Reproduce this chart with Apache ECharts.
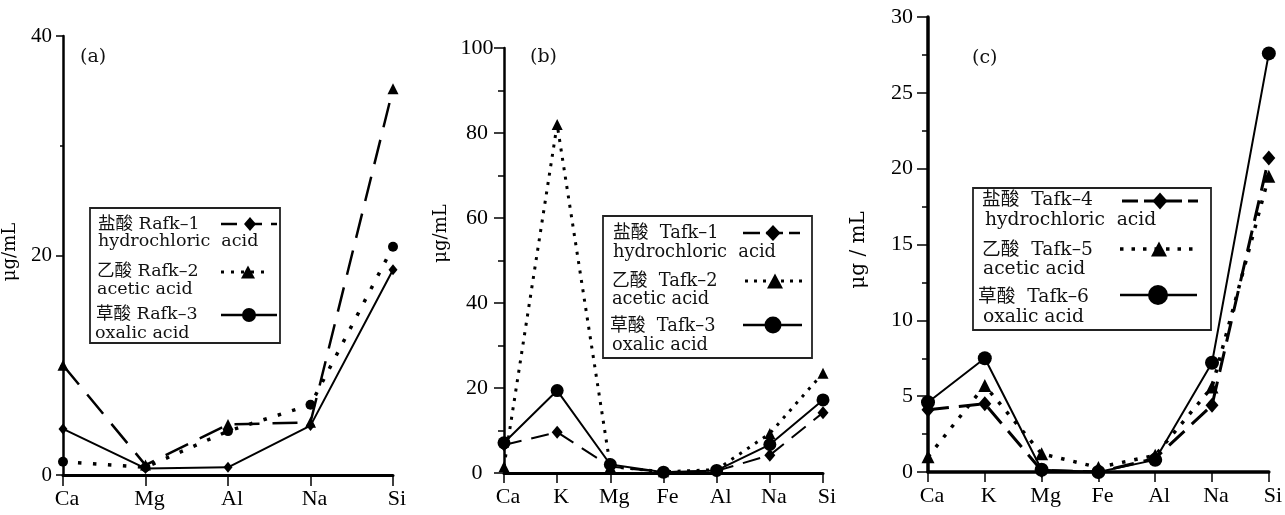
<!DOCTYPE html>
<html><head><meta charset="utf-8">
<script src="https://cdn.jsdelivr.net/npm/echarts@6/dist/echarts.min.js"></script>
<style>html,body{margin:0;padding:0;background:#fff}#c{width:1285px;height:515px}</style>
</head><body><div id="c"></div>
<script>
// ---------- data ----------
const catsA = ['Ca', 'Mg', 'Al', 'Na', 'Si'];
const rafk1 = [10.0, 0.9, 4.6, 4.8, 35.2];   // 盐酸 (dashed)
const rafk2 = [1.2, 0.7, 4.0, 6.4, 20.8];    // 乙酸 (dotted)
const rafk3 = [4.2, 0.6, 0.7, 4.5, 18.7];    // 草酸 (solid)

const catsB = ['Ca', 'K', 'Mg', 'Fe', 'Al', 'Na', 'Si'];
const tafk1 = [6.6, 9.6, 1.5, 0.2, 0.5, 4.2, 14.2];
const tafk2 = [1.5, 82.0, 1.5, 0.3, 0.8, 9.3, 23.5];
const tafk3 = [7.1, 19.4, 2.0, 0.2, 0.6, 6.7, 17.2];

const catsC = ['Ca', 'K', 'Mg', 'Fe', 'Al', 'Na', 'Si'];
const tafk4 = [4.1, 4.5, 0.1, 0.0, 0.9, 4.4, 20.7];
const tafk5 = [1.0, 5.7, 1.2, 0.3, 1.1, 5.6, 19.5];
const tafk6 = [4.6, 7.5, 0.15, 0.0, 0.8, 7.2, 27.6];

const yMaxA = 40, yStepA = 20;
const yMaxB = 100, yStepB = 20;
const yMaxC = 30, yStepC = 5;

const legendTextA = ['盐酸 Rafk–1', 'hydrochloric  acid', '乙酸 Rafk–2', 'acetic acid', '草酸 Rafk–3', 'oxalic acid'];
const legendTextB = ['盐酸  Tafk–1', 'hydrochloric  acid', '乙酸  Tafk–2', 'acetic acid', '草酸  Tafk–3', 'oxalic acid'];
const legendTextC = ['盐酸  Tafk–4', 'hydrochloric  acid', '乙酸  Tafk–5', 'acetic acid', '草酸  Tafk–6', 'oxalic acid'];
const panelTitles = ['(a)', '(b)', '(c)'];
const yNames = ['μg/mL', 'μg/mL', 'μg / mL'];

// ---------- styles ----------
const SERIF = '"Liberation Serif", "Times New Roman", serif';
const WIDE = '"DejaVu Serif", "Noto Sans CJK SC", serif';
const INK = '#000';

const panels = [
  {cats: catsA, max: yMaxA, step: yStepA, grid: {left: 61, top: 36, width: 332, height: 439},
   lab: 21, labMargin: 11, labAlign: 'right', tick: 7, minor: 3, yW: 2.5, xW: 3, xTick: 11, nameGap: 44, namePad: [0, 0, 0, 7], nameSize: 18},
  {cats: catsB, max: yMaxB, step: yStepB, grid: {left: 504, top: 48, width: 319, height: 425},
   lab: 22, labMargin: 27, labAlign: 'center', tick: 10, minor: 6, yW: 2.5, xW: 3, xTick: 10, nameGap: 54, namePad: [0, 0, 0, 54], nameSize: 18},
  {cats: catsC, max: yMaxC, step: yStepC, grid: {left: 928, top: 17, width: 341, height: 455},
   lab: 22, labMargin: 15, labAlign: 'right', tick: 11, minor: 6, yW: 3.5, xW: 3.5, xTick: 10, nameGap: 59, namePad: [0, 11, 0, 0], nameSize: 20}
];

const seriesStyles = [
  [ {name: legendTextA[0], data: rafk1, dash: [25, 13], w: 2.5, sym: 'triangle', size: 11},
    {name: legendTextA[2], data: rafk2, dash: [3.5, 11.5], w: 3.5, sym: 'circle', size: 10},
    {name: legendTextA[4], data: rafk3, dash: 'solid', w: 2, sym: 'diamond', size: [9, 11]} ],
  [ {name: legendTextB[0], data: tafk1, dash: [18, 10], w: 2, sym: 'diamond', size: [11, 13]},
    {name: legendTextB[2], data: tafk2, dash: [3, 6.5], w: 3, sym: 'triangle', size: 11},
    {name: legendTextB[4], data: tafk3, dash: 'solid', w: 2, sym: 'circle', size: 13} ],
  [ {name: legendTextC[0], data: tafk4, dash: [21, 10], w: 3, sym: 'diamond', size: [13, 15]},
    {name: legendTextC[2], data: tafk5, dash: [3.5, 9], w: 3.5, sym: 'triangle', size: 13},
    {name: legendTextC[4], data: tafk6, dash: 'solid', w: 2, sym: 'circle', size: 14} ]
];

const grids = [], xAxes = [], yAxes = [], series = [];
panels.forEach((p, i) => {
  grids.push(Object.assign({containLabel: false}, p.grid));
  xAxes.push({
    type: 'category', gridIndex: i, data: p.cats, boundaryGap: false,
    axisLine: {show: true, onZero: false, lineStyle: {color: INK, width: p.xW}},
    axisTick: {show: true, length: p.xTick, lineStyle: {color: INK, width: 1.5}},
    axisLabel: {color: INK, fontFamily: SERIF, fontSize: 22, margin: 13, padding: [0, 0, 0, 8]},
    splitLine: {show: false}
  });
  yAxes.push({
    type: 'value', gridIndex: i, min: 0, max: p.max, interval: p.step,
    name: yNames[i], nameLocation: 'middle', nameRotate: 90, nameGap: p.nameGap,
    nameTextStyle: {color: INK, fontFamily: WIDE, fontSize: p.nameSize, padding: p.namePad},
    axisLine: {show: true, lineStyle: {color: INK, width: p.yW}},
    axisTick: {show: true, length: p.tick, lineStyle: {color: INK, width: 1.5}},
    minorTick: {show: true, splitNumber: 2, length: p.minor, lineStyle: {color: INK, width: 1.5}},
    axisLabel: {color: INK, fontFamily: SERIF, fontSize: p.lab, margin: p.labMargin, align: p.labAlign},
    splitLine: {show: false}, minorSplitLine: {show: false}
  });
  seriesStyles[i].forEach(s => {
    series.push({
      type: 'line', name: s.name, data: s.data, xAxisIndex: i, yAxisIndex: i,
      symbol: s.sym, symbolSize: s.size, showAllSymbol: true,
      lineStyle: {color: INK, width: s.w, type: s.dash, cap: 'butt'},
      itemStyle: {color: INK, borderWidth: 0}, emphasis: {disabled: true}
    });
  });
});

// ---------- legends (drawn as graphics) ----------
function symbolEl(kind, cx, cy, w, h) {
  if (kind === 'circle') return {type: 'circle', shape: {cx, cy, r: w / 2}, style: {fill: INK}};
  if (kind === 'diamond') return {type: 'polygon', shape: {points: [[cx, cy - h / 2], [cx + w / 2, cy], [cx, cy + h / 2], [cx - w / 2, cy]]}, style: {fill: INK}};
  return {type: 'polygon', shape: {points: [[cx, cy - h / 2], [cx + w / 2, cy + h / 2], [cx - w / 2, cy + h / 2]]}, style: {fill: INK}};
}
const legendLayouts = [
  {texts: legendTextA, box: [90, 208, 190, 135], font: 17.5, tx: [98, 98, 97, 97, 96, 95], ty: [224, 241, 271, 289, 314, 333],
   samples: [
     {y: 224, x0: 221, x1: 277, dash: [16, 9], w: 2.5, sym: 'diamond', mx: 250, sw: 12, sh: 14},
     {y: 272, x0: 221, x1: 271, dash: [3, 7], w: 3, sym: 'triangle', mx: 248, sw: 14, sh: 13},
     {y: 315, x0: 221, x1: 277, dash: 'solid', w: 2.5, sym: 'circle', mx: 249, sw: 14, sh: 14}]},
  {texts: legendTextB, box: [603, 216, 209, 142], font: 17.8, tx: [613, 613, 612, 612, 610, 612], ty: [233, 252, 281, 299, 326, 345],
   samples: [
     {y: 233, x0: 743, x1: 800, dash: [17, 6], w: 2.5, sym: 'diamond', mx: 773, sw: 15, sh: 16},
     {y: 281, x0: 745, x1: 805, dash: [3, 6], w: 3, sym: 'triangle', mx: 775, sw: 16, sh: 15},
     {y: 325, x0: 743, x1: 802, dash: 'solid', w: 2.5, sym: 'circle', mx: 773, sw: 17, sh: 17}]},
  {texts: legendTextC, box: [973, 188, 238, 142], font: 18.7, tx: [982, 985, 982, 983, 978, 983], ty: [200, 220, 250, 269, 297, 317],
   samples: [
     {y: 201, x0: 1122, x1: 1198, dash: [16, 6], w: 3, sym: 'diamond', mx: 1160, sw: 15, sh: 17},
     {y: 249, x0: 1120, x1: 1198, dash: [3.5, 8], w: 3.5, sym: 'triangle', mx: 1159, sw: 16, sh: 15},
     {y: 295, x0: 1120, x1: 1197, dash: 'solid', w: 2.5, sym: 'circle', mx: 1158, sw: 20, sh: 20}]}
];
const graphics = [];
legendLayouts.forEach(L => {
  const ch = [];
  ch.push({type: 'rect', shape: {x: L.box[0], y: L.box[1], width: L.box[2], height: L.box[3]},
           style: {fill: '#fff', stroke: '#222', lineWidth: 1.8}});
  L.texts.forEach((t, k) => ch.push({type: 'text', style: {text: t, x: L.tx[k], y: L.ty[k], fill: '#111',
    font: L.font + 'px ' + WIDE, align: 'left', verticalAlign: 'middle'}}));
  L.samples.forEach(s => {
    ch.push({type: 'line', shape: {x1: s.x0, y1: s.y, x2: s.x1, y2: s.y},
             style: {stroke: INK, lineWidth: s.w, lineDash: s.dash === 'solid' ? null : s.dash}});
    ch.push(symbolEl(s.sym, s.mx, s.y, s.sw, s.sh));
  });
  graphics.push({type: 'group', z: 100, children: ch});
});

const titlePos = [[80, 48], [530, 48], [972, 49]];
const titles = panelTitles.map((t, i) => ({text: t, left: titlePos[i][0], top: titlePos[i][1], padding: 0,
  textStyle: {fontFamily: WIDE, fontSize: 19, fontWeight: 'normal', color: '#111'}}));

const chart = echarts.init(document.getElementById('c'), null, {renderer: 'canvas'});
chart.setOption({
  animation: false,
  backgroundColor: '#fff',
  title: titles,
  grid: grids,
  xAxis: xAxes,
  yAxis: yAxes,
  series: series,
  graphic: graphics
});
</script>
</body></html>
